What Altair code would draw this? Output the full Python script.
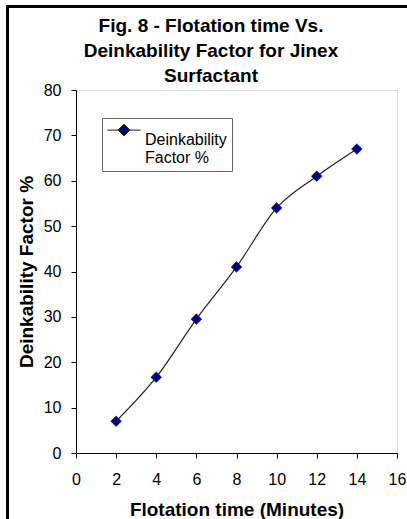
import altair as alt
import pandas as pd

minutes = [2, 4, 6, 8, 10, 12, 14]
deinkability = [7.0, 16.7, 29.5, 41.0, 54.0, 61.0, 67.0]
series_name = ["Deinkability Factor %"] * len(minutes)
x_ticks = [0, 2, 4, 6, 8, 10, 12, 14, 16]
y_ticks = [0, 10, 20, 30, 40, 50, 60, 70, 80]
title_lines = ["Fig. 8 - Flotation time Vs.", "Deinkability Factor for Jinex", "Surfactant"]

df = pd.DataFrame({"minutes": minutes, "value": deinkability, "series": series_name})

FONT = "Liberation Sans"

x_enc = alt.X("minutes:Q", scale=alt.Scale(domain=[0, 16], nice=False),
              axis=alt.Axis(values=x_ticks, title="Flotation time (Minutes)", grid=False,
                            tickSize=5, labelPadding=13, labelFontSize=16, labelFont=FONT,
                            titleFontSize=19, titleFont=FONT, titleFontWeight="bold",
                            titleBaseline="alphabetic", titleY=62,
                            domainColor="black", tickColor="black", labelColor="black",
                            titleColor="black", labelFlush=False))
y_enc = alt.Y("value:Q", scale=alt.Scale(domain=[0, 80], nice=False),
              axis=alt.Axis(values=y_ticks, title="Deinkability Factor %", grid=False,
                            tickSize=5, labelPadding=10, labelFontSize=16, labelFont=FONT,
                            titleFontSize=19, titleFont=FONT, titleFontWeight="bold",
                            titleAngle=270, titleAlign="center", titleBaseline="alphabetic",
                            titleX=-44, titleY=181.5,
                            domainColor="black", tickColor="black", labelColor="black",
                            titleColor="black", labelFlush=False))

base = alt.Chart(df)

line = base.mark_line(interpolate="monotone", color="#222222", strokeWidth=1.2).encode(
    x=x_enc, y=y_enc)

symbol_path = "M-1,-0.6L1,-0.6M0,-0.96L0.36,-0.6L0,-0.24L-0.36,-0.6Z"

points = base.mark_point(shape="diamond", filled=True, size=115, opacity=1,
                         stroke="#000080", strokeWidth=0.5).encode(
    x=x_enc, y=y_enc,
    color=alt.Color("series:N", scale=alt.Scale(range=["#000080"]),
                    legend=alt.Legend(title=None, orient="none", legendX=26, legendY=28,
                                      symbolType=symbol_path, symbolSize=1089,
                                      symbolStrokeColor="#222222", symbolStrokeWidth=1,
                                      symbolFillColor="#000080",
                                      labelExpr="['Deinkability', 'Factor %']",
                                      labelFontSize=16, labelFont=FONT, labelColor="black",
                                      labelLimit=300, labelOffset=4,
                                      padding=5, strokeColor="#666666", fillColor="white")))

frame = alt.Chart(alt.Data(values=[{}])).mark_rect(
    fill=None, stroke="black", strokeWidth=3).encode(
    x=alt.value(-68.5), y=alt.value(-83.5), x2=alt.value(360), y2=alt.value(460))

chart = alt.layer(frame, line, points).properties(
    width=321, height=363,
    autosize=alt.AutoSizeParams(type="none"),
    padding={"left": 76, "top": 90, "right": 10, "bottom": 66},
    title=alt.Title(text=title_lines, fontSize=19, font=FONT, fontWeight="bold",
                    anchor="middle", dx=-25.5, offset=0, dy=81, lineHeight=25, color="black"),
).configure_view(stroke="black", strokeWidth=1).configure(background="white")

chart.save("out.html", embed_options={"renderer": "svg", "actions": False})
